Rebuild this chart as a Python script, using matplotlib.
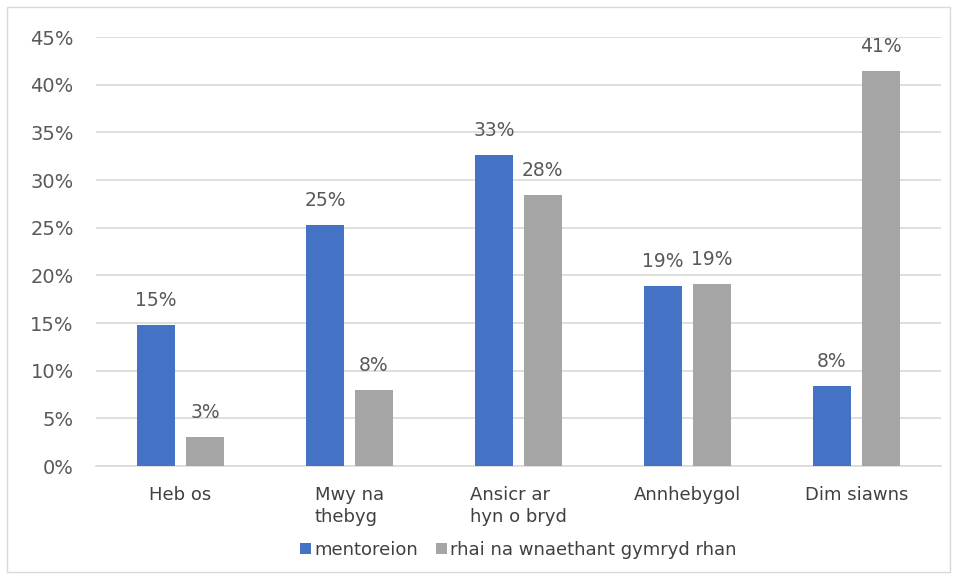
import numpy as np
import matplotlib.pyplot as plt
from matplotlib.patches import Rectangle

plt.rcParams['font.family'] = ['DejaVu Sans']

categories = ['Heb os', 'Mwy na\nthebyg', 'Ansicr ar\nhyn o bryd', 'Annhebygol', 'Dim siawns']
mentoreion = [14.8, 25.3, 32.6, 18.9, 8.4]
rhai = [3.0, 8.0, 28.4, 19.1, 41.4]
labels_m = ['15%', '25%', '33%', '19%', '8%']
labels_r = ['3%', '8%', '28%', '19%', '41%']
series_names = ['mentoreion', 'rhai na wnaethant gymryd rhan']

blue = '#4472c4'
grey = '#a5a5a5'
txt = '#595959'

fig = plt.figure(figsize=(9.57, 5.79), dpi=100)
ax = fig.add_axes([0.1003, 0.195, 0.8827, 0.741])
fig.add_artist(Rectangle((0.007, 0.012), 0.986, 0.976, transform=fig.transFigure,
                         fill=False, edgecolor='#d9d9d9', linewidth=1))

x = np.arange(len(categories))
w = 0.225
off = 0.145
b1 = ax.bar(x - off, mentoreion, w, color=blue, label=series_names[0], zorder=3)
b2 = ax.bar(x + off, rhai, w, color=grey, label=series_names[1], zorder=3)

for bars, labs in ((b1, labels_m), (b2, labels_r)):
    for b, l in zip(bars, labs):
        ax.text(b.get_x() + b.get_width() / 2, b.get_height() + 1.6, l,
                ha='center', va='bottom', fontsize=13.5, color=txt)

ax.set_xlim(-0.5, len(categories) - 0.5)
ax.set_ylim(0, 45)
ax.set_yticks(np.arange(0, 46, 5))
ax.set_yticklabels([f'{v}%' for v in range(0, 46, 5)], fontsize=14, color=txt)
ax.set_xticks(x)
ax.set_xticklabels(categories, fontsize=13, color='#404040', multialignment='left',
                   va='top', linespacing=1.3)
ax.tick_params(length=0)
ax.tick_params(axis='y', pad=16)
ax.tick_params(axis='x', pad=14)
ax.grid(axis='y', color='#d9d9d9', linewidth=1.2, zorder=0)
for s in ['top', 'right', 'left']:
    ax.spines[s].set_visible(False)
ax.spines['bottom'].set_color('#d9d9d9')
ax.spines['bottom'].set_linewidth(1.2)

ax.legend(loc='center', bbox_to_anchor=(0.5, -0.195), ncol=2, frameon=False,
          fontsize=13, handlelength=0.6, handleheight=0.6, handletextpad=0.2,
          columnspacing=1.0, labelcolor='#404040')

fig.savefig('out.png', dpi=100)
